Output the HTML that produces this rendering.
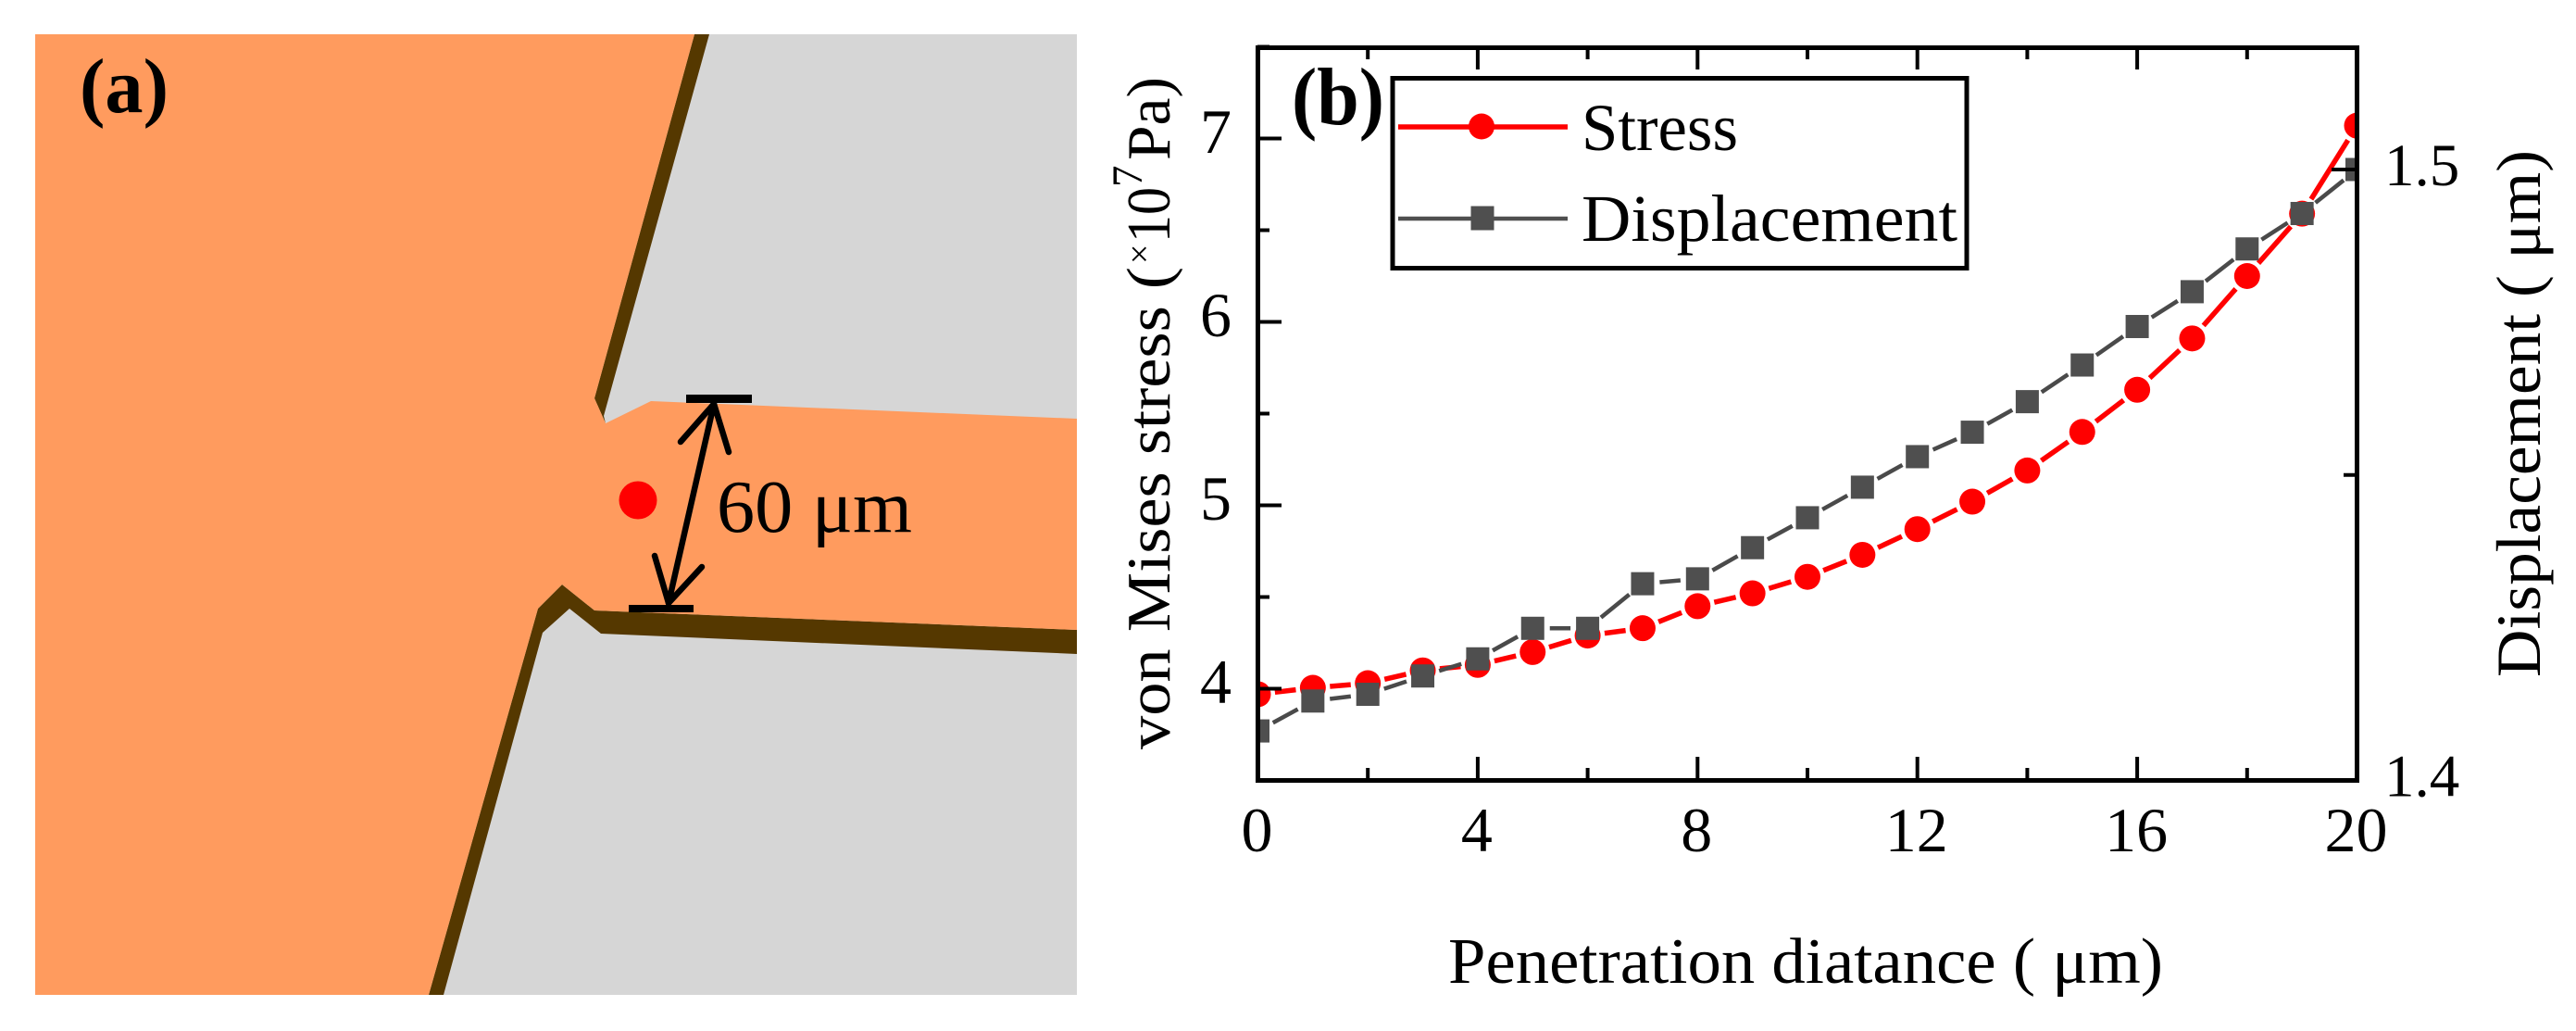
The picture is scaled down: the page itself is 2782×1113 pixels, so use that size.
<!DOCTYPE html>
<html lang="en">
<head>
<meta charset="utf-8">
<title>Stress and displacement figure</title>
<style>
  html, body { margin: 0; padding: 0; background: #fff; }
  svg { display: block; }
  text { font-family: "Liberation Serif", serif; fill: #000; }
</style>
</head>
<body>
<svg id="figure" xmlns="http://www.w3.org/2000/svg" width="2782" height="1113" viewBox="0 0 2782 1113">
  <rect x="0" y="0" width="2782" height="1113" fill="#ffffff"/>

  <g id="panel-a">
    <rect x="38" y="37" width="1125" height="1037" fill="#d6d6d6"/>
    <polygon points="750,37 766,37 652,449 654,457 642,430" fill="#553800"/>
    <polygon points="642,659 1163,680 1163,706 649,684 615,657 586,683 479,1074 463,1074 581,657 607,631" fill="#553800"/>
    <polygon points="38,37 750,37 642,430 654,457 703,433 1163,452 1163,680 642,659 607,631 581,657 463,1074 38,1074" fill="#ff9b5e"/>
    <rect x="741" y="426" width="71" height="9" fill="#000"/>
    <rect x="679" y="653" width="70" height="8" fill="#000"/>
    <g fill="none" stroke="#000" stroke-width="6.5" stroke-linecap="round" stroke-linejoin="round">
      <line x1="771" y1="436" x2="722" y2="651"/>
      <polyline points="735,477 771,436 787,488"/>
      <polyline points="707,600 722,651 758,612"/>
    </g>
    <circle cx="689" cy="540" r="20.5" fill="#ff0000"/>
    <text x="774" y="574" font-size="80" textLength="211" lengthAdjust="spacingAndGlyphs">60 μm</text>
    <text x="86" y="121" font-size="84" font-weight="bold" textLength="96" lengthAdjust="spacingAndGlyphs">(a)</text>
  </g>

  <g id="panel-b">
    <defs>
      <clipPath id="plot-clip"><rect x="1358" y="51" width="1187" height="792"/></clipPath>
    </defs>
    <g id="series-layer" clip-path="url(#plot-clip)"></g>
    <g id="tick-layer"></g>
    <rect x="1358.5" y="51.5" width="1187" height="791" fill="none" stroke="#000" stroke-width="5"/>

    <text x="1395" y="134" font-size="88" font-weight="bold" textLength="100" lengthAdjust="spacingAndGlyphs">(b)</text>

    <g>
      <rect x="1504" y="84.5" width="620" height="205" fill="#fff" stroke="#000" stroke-width="5"/>
      <line x1="1510" y1="137" x2="1693" y2="137" stroke="#ff0000" stroke-width="5.5"/>
      <circle cx="1600" cy="136.5" r="14" fill="#ff0000"/>
      <text x="1708" y="162" font-size="72" textLength="169" lengthAdjust="spacingAndGlyphs">Stress</text>
      <line x1="1510" y1="236" x2="1693" y2="236" stroke="#4f4f4f" stroke-width="4.5"/>
      <rect x="1588.5" y="222.5" width="25" height="26" fill="#4f4f4f"/>
      <text x="1708" y="260" font-size="72" textLength="406" lengthAdjust="spacingAndGlyphs">Displacement</text>
    </g>

    <text x="1564" y="1061" font-size="70" textLength="772" lengthAdjust="spacingAndGlyphs">Penetration diatance ( μm)</text>

    <text transform="translate(1263,809) rotate(-90)" font-size="67"><tspan x="0" textLength="521" lengthAdjust="spacingAndGlyphs">von Mises stress (</tspan><tspan x="524" y="-20" font-size="38">×</tspan><tspan x="547" y="0" textLength="60" lengthAdjust="spacingAndGlyphs">10</tspan><tspan x="607" y="-30" font-size="47">7</tspan><tspan x="636" y="0" textLength="90" lengthAdjust="spacingAndGlyphs">Pa)</tspan></text>

    <text transform="translate(2743,731) rotate(-90)" font-size="68" textLength="569" lengthAdjust="spacingAndGlyphs">Displacement ( μm)</text>
  </g>

  <script>
    const distances = [0, 1, 2, 3, 4, 5, 6, 7, 8, 9, 10, 11, 12, 13, 14, 15, 16, 17, 18, 19, 20];
    const stressValues = [3.97, 4.005, 4.03, 4.10, 4.13, 4.20, 4.29, 4.33, 4.45, 4.52, 4.61, 4.73, 4.87, 5.02, 5.19, 5.40, 5.63, 5.91, 6.25, 6.59, 7.07];
    const displacementValues = [1.4081, 1.413, 1.4141, 1.4171, 1.4199, 1.4249, 1.4249, 1.4322, 1.433, 1.4381, 1.443, 1.448, 1.453, 1.457, 1.462, 1.468, 1.4743, 1.480, 1.487, 1.4928, 1.500];
    const xTickLabels = [0, 4, 8, 12, 16, 20];
    const xMinorTicks = [2, 6, 10, 14, 18];
    const leftTickLabels = [4, 5, 6, 7];
    const leftMinorTicks = [3.5, 4.5, 5.5, 6.5, 7.5];
    const rightTickLabels = ["1.4", "1.5"];
    const rightMinorTicks = [1.45];

    const xScale = function (v) { return 1358.5 + v * (1187 / 20); };
    const yLeft = function (v) { return 842.5 - (v - 3.5) * 198; };
    const yRight = function (v) { return 842.5 - (v - 1.4) * 6595; };

    const SVG_NS = "http://www.w3.org/2000/svg";
    const seriesLayer = document.getElementById("series-layer");
    const tickLayer = document.getElementById("tick-layer");
    const panelB = document.getElementById("panel-b");
    const MARKER_GAP = 18.5;

    function shape(tag, parent, attrs) {
      const el = document.createElementNS(SVG_NS, tag);
      for (const k in attrs) el.setAttribute(k, attrs[k]);
      parent.appendChild(el);
      return el;
    }

    function drawSegments(xs, ys, yFn, color, width, name) {
      for (let i = 0; i < xs.length - 1; i++) {
        const x1 = xScale(xs[i]), y1 = yFn(ys[i]);
        const x2 = xScale(xs[i + 1]), y2 = yFn(ys[i + 1]);
        const len = Math.hypot(x2 - x1, y2 - y1);
        if (len <= MARKER_GAP * 2) continue;
        const ux = (x2 - x1) / len, uy = (y2 - y1) / len;
        const seg = shape("line", seriesLayer, {
          x1: x1 + ux * MARKER_GAP, y1: y1 + uy * MARKER_GAP,
          x2: x2 - ux * MARKER_GAP, y2: y2 - uy * MARKER_GAP,
          stroke: color, "stroke-width": width
        });
        
        
      }
    }

    drawSegments(distances, stressValues, yLeft, "#ff0000", 5.5, "stress-line-segment");
    drawSegments(distances, displacementValues, yRight, "#4a4a4a", 4.5, "displacement-line-segment");

    distances.forEach(function (d, i) {
      const dot = shape("circle", seriesLayer, { cx: xScale(d), cy: yLeft(stressValues[i]), r: 14, fill: "#ff0000" });
      
      
    });
    distances.forEach(function (d, i) {
      const sq = shape("rect", seriesLayer, { x: xScale(d) - 12.5, y: yRight(displacementValues[i]) - 12.5, width: 25, height: 25, fill: "#4f4f4f" });
      
      
    });

    function tick(x1, y1, x2, y2, name) {
      const t = shape("line", tickLayer, { x1: x1, y1: y1, x2: x2, y2: y2, stroke: "#000", "stroke-width": 4 });
      
      
    }

    function label(x, y, size, anchor, content, name) {
      const t = shape("text", panelB, { x: x, y: y, "font-size": size, "text-anchor": anchor });
      t.textContent = content;
      
      
    }

    xTickLabels.forEach(function (v) {
      const x = xScale(v);
      tick(x, 842, x, 817, "x-major-tick");
      tick(x, 51, x, 75, "x-top-major-tick");
      label(x - 1, 919, 68, "middle", String(v), "x-tick-label");
    });
    xMinorTicks.forEach(function (v) {
      const x = xScale(v);
      tick(x, 842, x, 829, "x-minor-tick");
      tick(x, 51, x, 64, "x-top-minor-tick");
    });
    leftTickLabels.forEach(function (v) {
      const y = yLeft(v);
      tick(1358, y, 1384, y, "left-y-major-tick");
      label(1313, y + 15.5, 68, "middle", String(v), "left-y-tick-label");
    });
    leftMinorTicks.forEach(function (v) {
      const y = yLeft(v);
      tick(1358, y, 1371, y, "left-y-minor-tick");
    });
    rightTickLabels.forEach(function (v) {
      const y = yRight(parseFloat(v));
      tick(2545, y, 2518, y, "right-y-major-tick");
      label(2575, y + 17, 65, "start", v, "right-y-tick-label");
    });
    rightMinorTicks.forEach(function (v) {
      const y = yRight(v);
      tick(2545, y, 2531, y, "right-y-minor-tick");
    });
  </script>
</svg>
</body>
</html>
